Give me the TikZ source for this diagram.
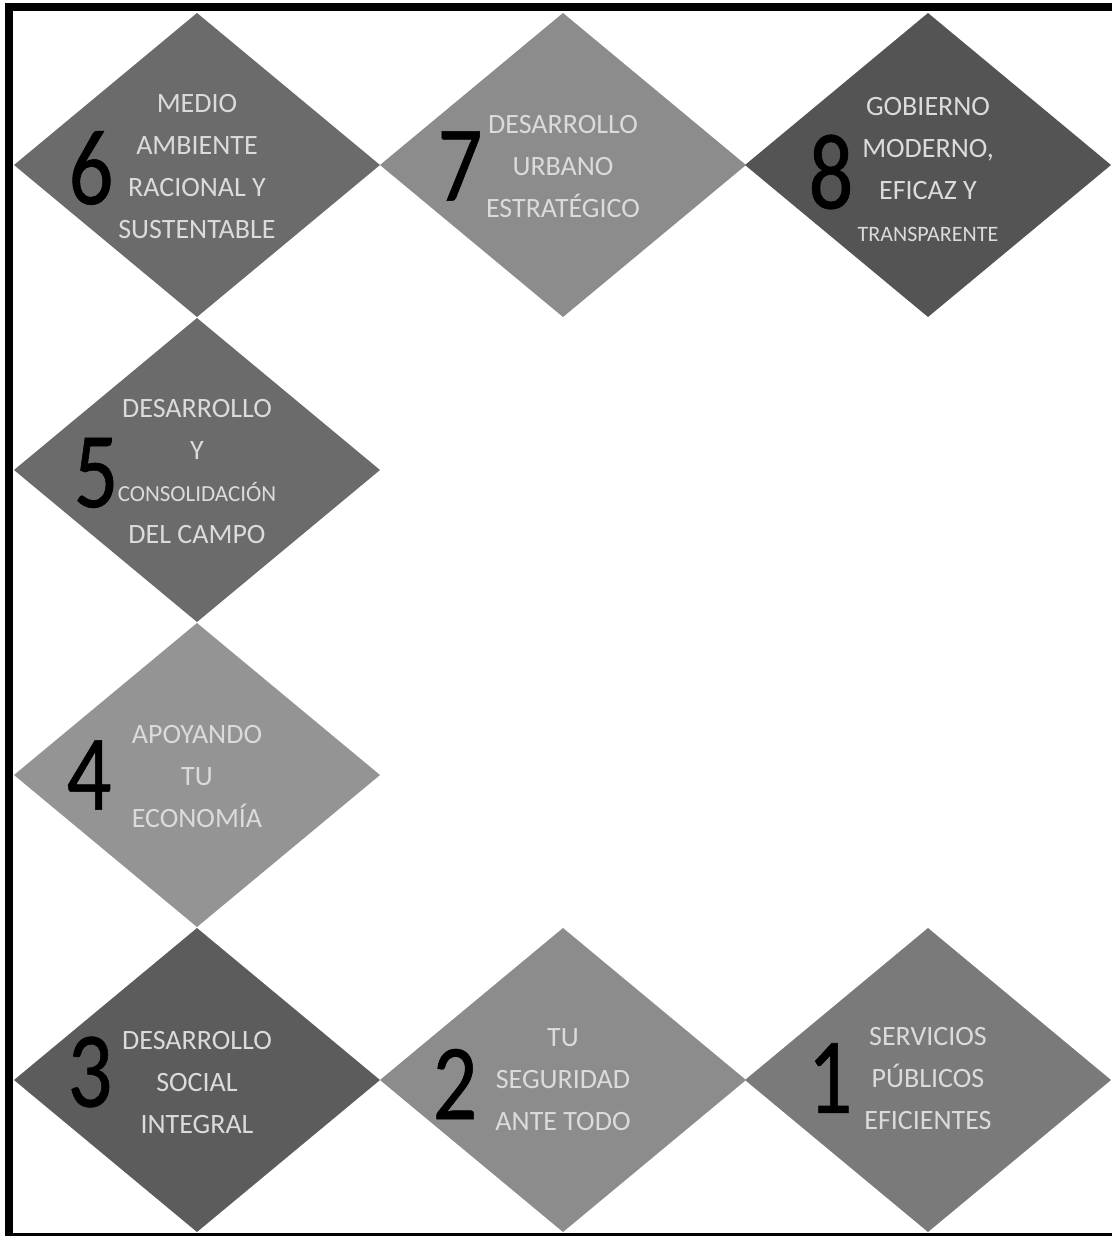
\documentclass[tikz,border=0pt]{standalone}
\usepackage{fontspec}
\setmainfont{Carlito}
\newfontfamily\numfont[FakeStretch=0.82, FakeBold=0.5]{Carlito}
\usetikzlibrary{shapes.geometric}

\begin{document}
\begin{tikzpicture}[
    x=0.5pt,
    y=-0.5pt,
    tile/.style={diamond, draw=none, inner sep=0pt, outer sep=0pt,
        minimum width=183pt, minimum height=152pt},
    numlabel/.style={font=\numfont\fontsize{54}{54}\selectfont, text=black, inner sep=0pt},
    caption/.style={font=\fontsize{14}{21}\selectfont, text=capgray, align=center, inner sep=0pt}
]

\colorlet{capgray}{black!14}
\colorlet{shadeA}{black!58}
\colorlet{shadeB}{black!45}
\colorlet{shadeC}{black!67}
\colorlet{shadeD}{black!58}
\colorlet{shadeE}{black!42}
\colorlet{shadeF}{black!64}
\colorlet{shadeG}{black!45}
\colorlet{shadeH}{black!52}

\useasboundingbox (0,0) rectangle (1112,1236);

% Eight tiles running round the frame: top row, left column, bottom row.
\foreach \id/\cx/\cy/\col/\nx/\ny in {
    6/197/165/shadeA/-106/3,
    7/563/165/shadeB/-103/1,
    8/928/165/shadeC/-97/7,
    5/197/470/shadeD/-101/3,
    4/197/775/shadeE/-108/0,
    3/197/1080/shadeF/-107/-8,
    2/563/1080/shadeG/-108/4,
    1/928/1080/shadeH/-98/-2} {
    \node[tile, fill=\col] (tile\id) at (\cx, \cy) {};
    \node[numlabel] (num\id) at ([shift={(\nx, \ny)}]tile\id.center) {\id};
}

% Captions sit on the tile centres.
\node[caption] (cap6) at ([shift={(0, 2)}]tile6.center) {MEDIO\\AMBIENTE\\RACIONAL Y\\SUSTENTABLE};
\node[caption] (cap7) at ([shift={(0, 2)}]tile7.center) {DESARROLLO\\URBANO\\ESTRATÉGICO};
\node[caption] (cap8) at ([shift={(0, 4)}]tile8.center)
    {GOBIERNO\\MODERNO,\\EFICAZ Y\\{\fontsize{11}{21}\selectfont TRANSPARENTE}};
\node[caption] (cap5) at ([shift={(0, 2)}]tile5.center)
    {DESARROLLO\\Y\\{\fontsize{11.5}{21}\selectfont CONSOLIDACIÓN}\\DEL CAMPO};
\node[caption] (cap4) at ([shift={(0, 2)}]tile4.center) {APOYANDO\\TU\\ECONOMÍA};
\node[caption] (cap3) at ([shift={(0, 2)}]tile3.center) {DESARROLLO\\SOCIAL\\INTEGRAL};
\node[caption] (cap2) at ([shift={(0, 0)}]tile2.center) {TU\\SEGURIDAD\\ANTE TODO};
\node[caption] (cap1) at ([shift={(0, -2)}]tile1.center) {SERVICIOS\\PÚBLICOS\\EFICIENTES};

% Frame: heavy on the left and top, thin along the bottom.
\draw[line width=4pt] (9, 1236) -- (9, 7) -- (1112, 7);
\draw[line width=1.5pt] (9, 1234.5) -- (1112, 1234.5);

\end{tikzpicture}
\end{document}
